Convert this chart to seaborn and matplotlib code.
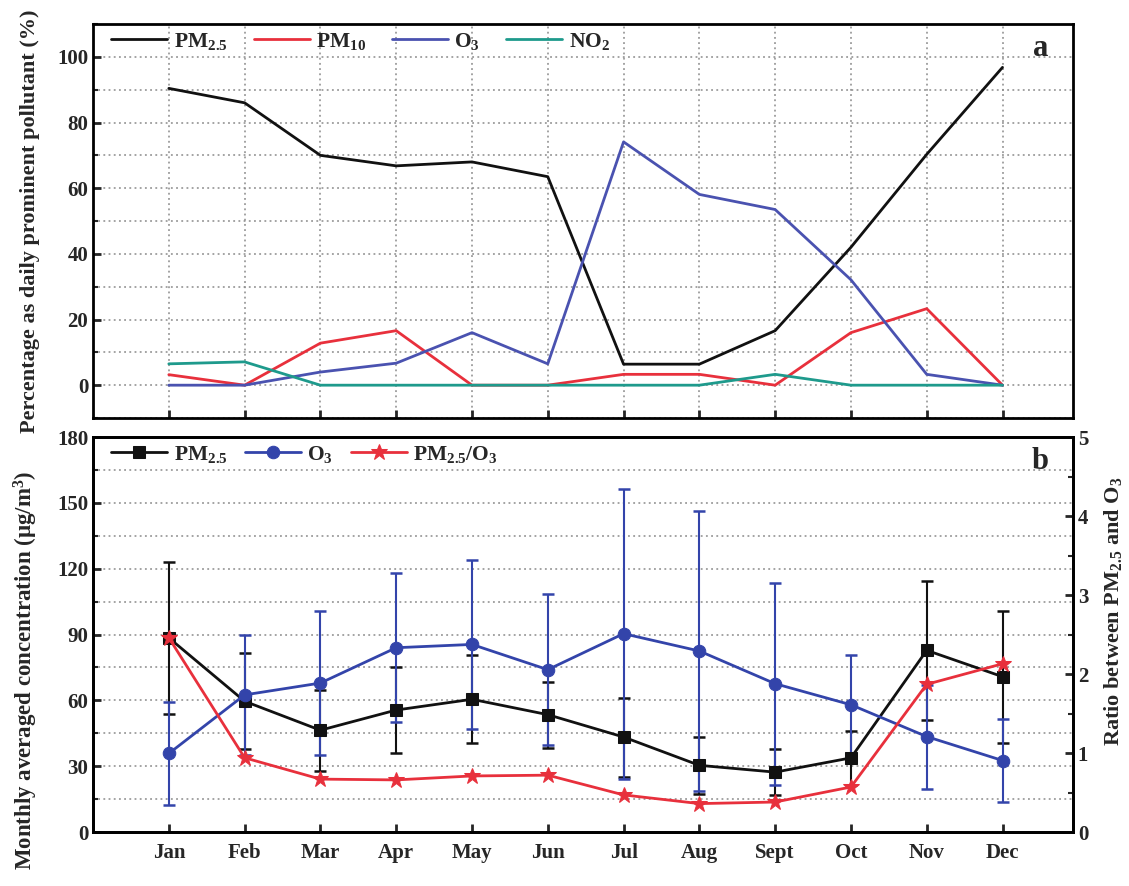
import numpy as np
import pandas as pd
import matplotlib
matplotlib.use("Agg")
import matplotlib.pyplot as plt
from matplotlib.ticker import MultipleLocator
import seaborn as sns

# ---------------- data ----------------
months = ["Jan", "Feb", "Mar", "Apr", "May", "Jun", "Jul", "Aug", "Sept", "Oct", "Nov", "Dec"]
month_idx = list(range(1, 13))

# panel a: percentage as daily prominent pollutant (%)
pct_pm25 = [90.4, 86.0, 70.0, 66.8, 68.0, 63.5, 6.4, 6.4, 16.6, 42.0, 70.3, 96.8]
pct_pm10 = [3.2, 0.0, 12.8, 16.6, 0.0, 0.0, 3.3, 3.3, 0.0, 16.0, 23.3, 0.0]
pct_o3 = [0.0, 0.0, 4.0, 6.7, 16.0, 6.5, 74.1, 58.1, 53.5, 32.1, 3.3, 0.0]
pct_no2 = [6.5, 7.1, 0.0, 0.0, 0.0, 0.0, 0.0, 0.0, 3.3, 0.0, 0.0, 0.0]

# panel b: monthly averaged concentration (ug/m3) with std
conc_pm25 = [88.5, 59.6, 46.4, 55.6, 60.5, 53.5, 43.3, 30.4, 27.3, 33.8, 82.8, 70.8]
err_pm25 = [34.7, 21.8, 18.5, 19.7, 20.0, 15.0, 18.0, 13.0, 10.6, 12.4, 31.7, 30.1]
conc_o3 = [35.8, 62.5, 67.9, 84.0, 85.5, 74.0, 90.4, 82.5, 67.6, 58.0, 43.5, 32.6]
err_o3 = [23.5, 27.5, 33.0, 34.0, 38.5, 34.5, 66.0, 64.0, 46.0, 22.6, 23.7, 18.7]
ratio_pm25_o3 = [2.46, 0.94, 0.67, 0.66, 0.71, 0.72, 0.47, 0.36, 0.38, 0.57, 1.87, 2.13]

# ---------------- style ----------------
sns.set_theme(style="ticks")
plt.rcParams["font.family"] = ["Liberation Serif", "DejaVu Serif"]
plt.rcParams["font.weight"] = "bold"
plt.rcParams["axes.labelweight"] = "bold"
plt.rcParams["mathtext.default"] = "regular"
plt.rcParams["axes.linewidth"] = 2.0
plt.rcParams["xtick.direction"] = "in"
plt.rcParams["ytick.direction"] = "in"
plt.rcParams["axes.edgecolor"] = "black"

C_BLACK = "#111111"
C_RED = "#e8303c"
C_BLUE = "#4a52b0"
C_TEAL = "#1e9a8c"
C_BLUE_B = "#3344aa"

fig = plt.figure(figsize=(11.29, 8.86), dpi=100)
ax_a = fig.add_axes([0.0824, 0.5282, 0.868, 0.4447])
ax_b = fig.add_axes([0.0824, 0.0609, 0.868, 0.4458])

grid_kw = dict(color="#8a8a8a", linestyle=(0, (1.2, 2.2)), linewidth=1.1)

# ---------------- panel a ----------------
df_a = pd.DataFrame({"month": month_idx, "PM25": pct_pm25, "PM10": pct_pm10,
                     "O3": pct_o3, "NO2": pct_no2})
for col, color, lab in [("PM25", C_BLACK, r"PM$_{2.5}$"), ("PM10", C_RED, r"PM$_{10}$"),
                        ("O3", C_BLUE, r"O$_{3}$"), ("NO2", C_TEAL, r"NO$_{2}$")]:
    sns.lineplot(data=df_a, x="month", y=col, ax=ax_a, color=color, linewidth=2.0,
                 label=lab, zorder=3)

ax_a.set_xlim(0, 12.93)
ax_a.set_ylim(-10, 110)
ax_a.set_xticks(month_idx)
ax_a.set_xticklabels([])
ax_a.yaxis.set_major_locator(MultipleLocator(20))
ax_a.yaxis.set_minor_locator(MultipleLocator(10))
ax_a.tick_params(axis="both", which="major", length=6, width=2, labelsize=15)
ax_a.tick_params(axis="y", which="minor", length=3.5, width=1.5)
ax_a.grid(True, which="both", axis="y", **grid_kw)
ax_a.grid(True, which="major", axis="x", **grid_kw)
ax_a.set_axisbelow(True)
ax_a.set_xlabel("")
ax_a.set_ylabel("Percentage as daily prominent pollutant (%)", fontsize=16.0)
ax_a.yaxis.set_label_coords(-0.054, 0.5)
ax_a.legend(loc="upper left", ncol=4, frameon=False, fontsize=15.5, handlelength=2.6,
            columnspacing=1.2, handletextpad=0.3, borderaxespad=0.0,
            bbox_to_anchor=(0.01, 1.005))
ax_a.text(0.975, 0.975, "a", transform=ax_a.transAxes, ha="right", va="top",
          fontsize=22, fontweight="bold")

# ---------------- panel b ----------------
df_b = pd.DataFrame({"month": month_idx, "PM25": conc_pm25, "PM25_err": err_pm25,
                     "O3": conc_o3, "O3_err": err_o3, "ratio": ratio_pm25_o3})

ax_b.errorbar(df_b["month"], df_b["PM25"], yerr=df_b["PM25_err"], fmt="none",
              ecolor=C_BLACK, elinewidth=1.5, capsize=4.5, capthick=1.8, zorder=2)
ax_b.errorbar(df_b["month"], df_b["O3"], yerr=df_b["O3_err"], fmt="none",
              ecolor=C_BLUE_B, elinewidth=1.5, capsize=4.5, capthick=1.8, zorder=2)
sns.lineplot(data=df_b, x="month", y="PM25", ax=ax_b, color=C_BLACK, linewidth=2.0,
             marker="s", markersize=8, markeredgecolor=C_BLACK, label=r"PM$_{2.5}$", zorder=3)
sns.lineplot(data=df_b, x="month", y="O3", ax=ax_b, color=C_BLUE_B, linewidth=2.0,
             marker="o", markersize=9, markeredgecolor=C_BLUE_B, label=r"O$_{3}$", zorder=3)

ax_r = ax_b.twinx()
sns.lineplot(data=df_b, x="month", y="ratio", ax=ax_r, color=C_RED, linewidth=2.0,
             marker="*", markersize=12, markeredgecolor=C_RED, label=r"PM$_{2.5}$/O$_{3}$", zorder=3)
ax_r.set_ylim(0, 5)
ax_r.yaxis.set_major_locator(MultipleLocator(1))
ax_r.yaxis.set_minor_locator(MultipleLocator(0.5))
ax_r.tick_params(axis="y", which="major", length=6, width=2, labelsize=15)
ax_r.tick_params(axis="y", which="minor", length=3.5, width=1.5)
ax_r.set_ylabel(r"Ratio between PM$_{2.5}$ and O$_{3}$", fontsize=16)
ax_r.yaxis.set_label_coords(1.03, 0.56)
for s in ax_r.spines.values():
    s.set_linewidth(2.0)
if ax_r.get_legend() is not None:
    ax_r.get_legend().remove()

ax_b.set_xlim(0, 12.93)
ax_b.set_ylim(0, 180)
ax_b.set_xticks(month_idx)
ax_b.set_xticklabels(months)
ax_b.yaxis.set_major_locator(MultipleLocator(30))
ax_b.yaxis.set_minor_locator(MultipleLocator(15))
ax_b.tick_params(axis="both", which="major", length=6, width=2, labelsize=15)
ax_b.tick_params(axis="x", which="major", pad=8)
ax_b.tick_params(axis="y", which="minor", length=3.5, width=1.5)
ax_b.grid(True, which="both", axis="y", **grid_kw)
ax_b.grid(False, axis="x")
ax_b.set_axisbelow(True)
ax_b.set_xlabel("")
ax_b.set_ylabel(r"Monthly averaged concentration ($\mu$g/m$^{3}$)", fontsize=16.5)
ax_b.yaxis.set_label_coords(-0.054, 0.41)

h1, l1 = ax_b.get_legend_handles_labels()
h2, l2 = ax_r.get_legend_handles_labels()
ax_b.legend(h1 + h2, l1 + l2, loc="upper left", ncol=3, frameon=False, fontsize=15.5,
            handlelength=2.6, columnspacing=0.8, handletextpad=0.3, borderaxespad=0.0,
            bbox_to_anchor=(0.01, 1.005))
ax_b.text(0.975, 0.975, "b", transform=ax_b.transAxes, ha="right", va="top",
          fontsize=22, fontweight="bold")

fig.savefig("out.png", dpi=100)
